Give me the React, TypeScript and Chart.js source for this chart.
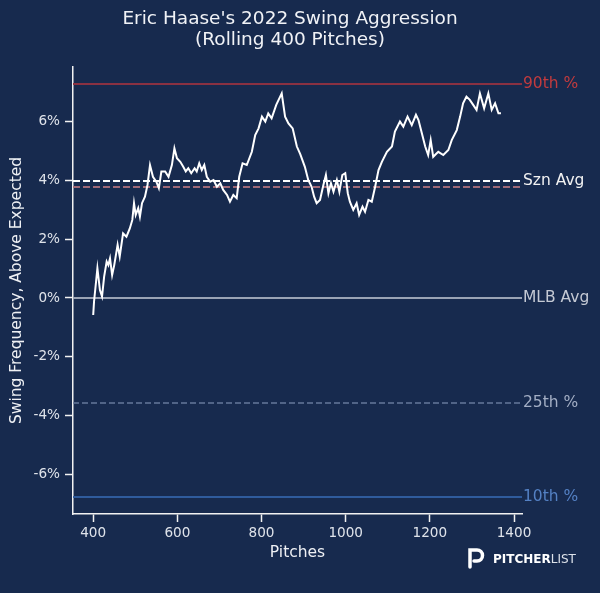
import { useEffect, useRef } from 'react';
import { Chart, registerables } from 'chart.js';

Chart.register(...registerables);

const titleLines = ["Eric Haase's 2022 Swing Aggression", '(Rolling 400 Pitches)'];

// rolling 400-pitch swing frequency above expected (%)
const pitches = [
  400, 402, 410, 416, 421, 426, 432, 436, 440, 445,
  450, 458, 463, 471, 479, 487, 493, 497, 501, 507,
  511, 516, 523, 529, 535, 542, 550, 556, 562, 571,
  579, 587, 593, 599, 607, 614, 620, 626, 633, 641,
  646, 652, 658, 664, 670, 678, 686, 694, 702, 709,
  718, 725, 733, 741, 747, 755, 765, 777, 785, 793,
  801, 809, 816, 824, 835, 848, 856, 864, 874, 884,
  892, 903, 911, 919, 925, 931, 939, 947, 953, 959,
  965, 971, 979, 985, 992, 999, 1005, 1010, 1018, 1026,
  1032, 1040, 1046, 1054, 1062, 1070, 1078, 1086, 1098, 1110,
  1117, 1129, 1137, 1147, 1157, 1167, 1173, 1181, 1189, 1196,
  1202, 1208, 1220, 1232, 1244, 1252, 1264, 1272, 1279, 1287,
  1295, 1303, 1311, 1319, 1329, 1339, 1347, 1355, 1363, 1369,
];
const swingAbove = [
  -0.58, -0.12, 1.01, 0.27, 0.05, 0.73, 1.24, 1.12, 1.35, 0.78,
  1.12, 1.81, 1.41, 2.2, 2.09, 2.37, 2.66, 3.23, 2.83, 3.06,
  2.77, 3.23, 3.45, 3.85, 4.53, 4.13, 3.96, 3.74, 4.31, 4.31,
  4.13, 4.53, 5.1, 4.76, 4.64, 4.47, 4.31, 4.42, 4.25, 4.42,
  4.31, 4.59, 4.36, 4.53, 4.13, 3.96, 4.02, 3.79, 3.91, 3.68,
  3.51, 3.28, 3.51, 3.4, 4.13, 4.59, 4.53, 4.98, 5.55, 5.78,
  6.18, 6.01, 6.29, 6.12, 6.58, 6.97, 6.18, 5.95, 5.78, 5.16,
  4.9, 4.47, 4.02, 3.79, 3.45, 3.23, 3.34, 3.85, 4.19, 3.57,
  3.91, 3.62, 4.02, 3.62, 4.19, 4.25, 3.57, 3.28, 3.0, 3.23,
  2.83, 3.11, 2.94, 3.34, 3.28, 3.79, 4.36, 4.64, 4.98, 5.16,
  5.67, 6.01, 5.84, 6.18, 5.89, 6.24, 6.06, 5.61, 5.16, 4.87,
  5.38, 4.81, 4.98, 4.87, 5.04, 5.38, 5.72, 6.18, 6.63, 6.86,
  6.75, 6.58, 6.41, 6.97, 6.46, 6.97, 6.41, 6.63, 6.29, 6.29,
];

// reference lines
const refLabels = ['90th %', 'Szn Avg', '', 'MLB Avg', '25th %', '10th %'];
const refValues = [7.29, 3.99, 3.78, 0, -3.58, -6.78];
const refLineColors = ['#8a3142', '#ffffff', '#a06a78', '#9aa3b5', '#66789a', '#2f5b9c'];
const refLabelColors = ['#c23b3e', '#f2f2f2', '', '#c4c9d4', '#a3aec4', '#5481c4'];
const refDashes = [[], [7, 3], [7, 3], [], [6, 3], []];
const refWidths = [2, 2, 2, 2, 1.5, 2];

const xMin = 352;
const xMax = 1419;
const yMin = -7.36;
const yMax = 7.87;

const BG = '#172a4e';
const FONT = '"DejaVu Sans", sans-serif';

const decorPlugin = {
  id: 'decor',
  beforeDraw(chart: any) {
    const { ctx, width, height } = chart;
    ctx.save();
    ctx.fillStyle = BG;
    ctx.fillRect(0, 0, width, height);
    ctx.restore();
  },
  afterDraw(chart: any) {
    const { ctx, chartArea, scales } = chart;
    ctx.save();
    // title
    ctx.fillStyle = '#f0f2f6';
    ctx.textAlign = 'center';
    ctx.textBaseline = 'middle';
    ctx.font = `18.5px ${FONT}`;
    ctx.fillText(titleLines[0], 290, 19);
    ctx.fillText(titleLines[1], 290, 40);

    // right-hand labels
    ctx.textAlign = 'left';
    ctx.font = `15.5px ${FONT}`;
    refLabels.forEach((t, i) => {
      if (!t) return;
      ctx.fillStyle = refLabelColors[i];
      ctx.fillText(t, chartArea.right + 1, scales.y.getPixelForValue(refValues[i]));
    });

    // logo
    ctx.strokeStyle = '#ffffff';
    ctx.lineWidth = 3.5;
    ctx.lineCap = 'round';
    ctx.beginPath();
    ctx.moveTo(470, 567);
    ctx.lineTo(470, 550);
    ctx.lineTo(477, 550);
    ctx.arc(477, 555.5, 5.5, -Math.PI / 2, Math.PI / 2);
    ctx.lineTo(474, 561);
    ctx.stroke();
    ctx.fillStyle = '#ffffff';
    ctx.font = `bold 12px ${FONT}`;
    ctx.fillText('PITCHER', 493, 560);
    const w = ctx.measureText('PITCHER').width;
    ctx.font = `12px ${FONT}`;
    ctx.fillStyle = '#dde2ea';
    ctx.fillText('LIST', 493 + w, 560);
    ctx.restore();
  },
};

export default function App() {
  const chartRef = useRef<HTMLCanvasElement>(null);
  const chartInstance = useRef<Chart | null>(null);

  useEffect(() => {
    document.body.style.margin = '0';
    document.body.style.background = BG;
    if (!chartRef.current) return;
    if (chartInstance.current) chartInstance.current.destroy();
    const ctx = chartRef.current.getContext('2d');
    if (!ctx) return;

    const rolling = {
      label: 'Rolling',
      data: pitches.map((p, i) => ({ x: p, y: swingAbove[i] })),
      borderColor: '#ffffff',
      borderWidth: 2,
      pointRadius: 0,
      tension: 0,
    };
    const refs = refValues.map((v, i) => ({
      label: refLabels[i] || 'ref',
      data: [{ x: xMin, y: v }, { x: xMax, y: v }],
      borderColor: refLineColors[i],
      borderWidth: refWidths[i],
      borderDash: refDashes[i],
      pointRadius: 0,
    }));

    chartInstance.current = new Chart(ctx, {
      type: 'line',
      data: { datasets: [rolling, ...refs] as any },
      plugins: [decorPlugin],
      options: {
        animation: false,
        responsive: true,
        maintainAspectRatio: false,
        layout: { padding: { top: 67, right: 78, left: 0, bottom: 0 } },
        plugins: {
          legend: { display: false },
          tooltip: { enabled: false },
        },
        scales: {
          x: {
            type: 'linear',
            min: xMin,
            max: xMax,
            afterFit: (s: any) => { s.height = 79; },
            border: { color: '#f2f2f2', width: 1.5 },
            grid: { drawOnChartArea: false, drawTicks: true, tickLength: 8, color: '#f2f2f2', tickWidth: 1.5 },
            ticks: {
              stepSize: 200,
              includeBounds: false,
              color: '#dfe3ea',
              padding: 3,
              maxRotation: 0,
              font: { family: FONT, size: 13.6 },
              callback: (v: any) => String(v),
            },
            title: {
              display: true,
              text: 'Pitches',
              color: '#eef0f4',
              font: { family: FONT, size: 15.5 },
              padding: { top: 0, bottom: 31 },
            },
          },
          y: {
            type: 'linear',
            min: yMin,
            max: yMax,
            afterFit: (s: any) => { s.width = 73; },
            border: { color: '#f2f2f2', width: 1.5 },
            grid: { drawOnChartArea: false, drawTicks: true, tickLength: 8, color: '#f2f2f2', tickWidth: 1.5 },
            ticks: {
              stepSize: 2,
              includeBounds: false,
              color: '#dfe3ea',
              padding: 5,
              font: { family: FONT, size: 13.6 },
              callback: (v: any) => `${v}%`,
            },
            title: {
              display: true,
              text: 'Swing Frequency, Above Expected',
              color: '#eef0f4',
              font: { family: FONT, size: 15.5 },
              padding: { top: 8, bottom: 0 },
            },
          },
        },
      },
    });

    return () => {
      if (chartInstance.current) {
        chartInstance.current.destroy();
        chartInstance.current = null;
      }
    };
  }, []);

  return (
    <div style={{ width: 600, height: 593, position: 'relative', background: BG }}>
      <canvas ref={chartRef}></canvas>
    </div>
  );
}
